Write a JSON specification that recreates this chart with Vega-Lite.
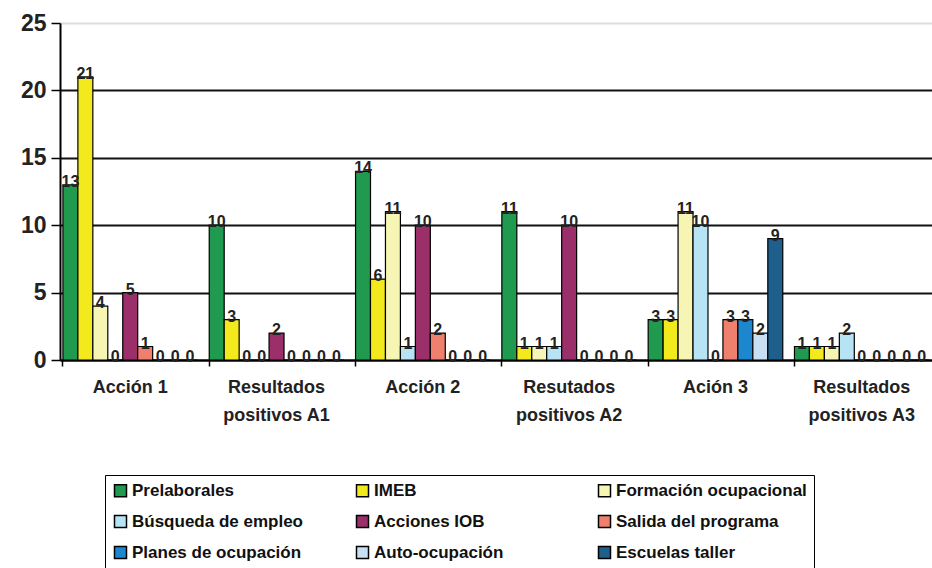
{
  "$schema": "https://vega.github.io/schema/vega-lite/v6.json",
  "width": 872,
  "height": 337,
  "autosize": "none",
  "padding": {"left": 60, "top": 23, "right": 0, "bottom": 208},
  "background": "white",
  "config": {
    "view": {"stroke": null},
    "font": "Liberation Sans"
  },
  "data": {
    "values": [
      {"grupo": "Acción 1", "serie": "Prelaborales", "valor": 13},
      {"grupo": "Acción 1", "serie": "IMEB", "valor": 21},
      {"grupo": "Acción 1", "serie": "Formación ocupacional", "valor": 4},
      {"grupo": "Acción 1", "serie": "Búsqueda de empleo", "valor": 0},
      {"grupo": "Acción 1", "serie": "Acciones IOB", "valor": 5},
      {"grupo": "Acción 1", "serie": "Salida del programa", "valor": 1},
      {"grupo": "Acción 1", "serie": "Planes de ocupación", "valor": 0},
      {"grupo": "Acción 1", "serie": "Auto-ocupación", "valor": 0},
      {"grupo": "Acción 1", "serie": "Escuelas taller", "valor": 0},
      {"grupo": "Resultados positivos A1", "serie": "Prelaborales", "valor": 10},
      {"grupo": "Resultados positivos A1", "serie": "IMEB", "valor": 3},
      {"grupo": "Resultados positivos A1", "serie": "Formación ocupacional", "valor": 0},
      {"grupo": "Resultados positivos A1", "serie": "Búsqueda de empleo", "valor": 0},
      {"grupo": "Resultados positivos A1", "serie": "Acciones IOB", "valor": 2},
      {"grupo": "Resultados positivos A1", "serie": "Salida del programa", "valor": 0},
      {"grupo": "Resultados positivos A1", "serie": "Planes de ocupación", "valor": 0},
      {"grupo": "Resultados positivos A1", "serie": "Auto-ocupación", "valor": 0},
      {"grupo": "Resultados positivos A1", "serie": "Escuelas taller", "valor": 0},
      {"grupo": "Acción 2", "serie": "Prelaborales", "valor": 14},
      {"grupo": "Acción 2", "serie": "IMEB", "valor": 6},
      {"grupo": "Acción 2", "serie": "Formación ocupacional", "valor": 11},
      {"grupo": "Acción 2", "serie": "Búsqueda de empleo", "valor": 1},
      {"grupo": "Acción 2", "serie": "Acciones IOB", "valor": 10},
      {"grupo": "Acción 2", "serie": "Salida del programa", "valor": 2},
      {"grupo": "Acción 2", "serie": "Planes de ocupación", "valor": 0},
      {"grupo": "Acción 2", "serie": "Auto-ocupación", "valor": 0},
      {"grupo": "Acción 2", "serie": "Escuelas taller", "valor": 0},
      {"grupo": "Resutados positivos A2", "serie": "Prelaborales", "valor": 11},
      {"grupo": "Resutados positivos A2", "serie": "IMEB", "valor": 1},
      {"grupo": "Resutados positivos A2", "serie": "Formación ocupacional", "valor": 1},
      {"grupo": "Resutados positivos A2", "serie": "Búsqueda de empleo", "valor": 1},
      {"grupo": "Resutados positivos A2", "serie": "Acciones IOB", "valor": 10},
      {"grupo": "Resutados positivos A2", "serie": "Salida del programa", "valor": 0},
      {"grupo": "Resutados positivos A2", "serie": "Planes de ocupación", "valor": 0},
      {"grupo": "Resutados positivos A2", "serie": "Auto-ocupación", "valor": 0},
      {"grupo": "Resutados positivos A2", "serie": "Escuelas taller", "valor": 0},
      {"grupo": "Ación 3", "serie": "Prelaborales", "valor": 3},
      {"grupo": "Ación 3", "serie": "IMEB", "valor": 3},
      {"grupo": "Ación 3", "serie": "Formación ocupacional", "valor": 11},
      {"grupo": "Ación 3", "serie": "Búsqueda de empleo", "valor": 10},
      {"grupo": "Ación 3", "serie": "Acciones IOB", "valor": 0},
      {"grupo": "Ación 3", "serie": "Salida del programa", "valor": 3},
      {"grupo": "Ación 3", "serie": "Planes de ocupación", "valor": 3},
      {"grupo": "Ación 3", "serie": "Auto-ocupación", "valor": 2},
      {"grupo": "Ación 3", "serie": "Escuelas taller", "valor": 9},
      {"grupo": "Resultados positivos A3", "serie": "Prelaborales", "valor": 1},
      {"grupo": "Resultados positivos A3", "serie": "IMEB", "valor": 1},
      {"grupo": "Resultados positivos A3", "serie": "Formación ocupacional", "valor": 1},
      {"grupo": "Resultados positivos A3", "serie": "Búsqueda de empleo", "valor": 2},
      {"grupo": "Resultados positivos A3", "serie": "Acciones IOB", "valor": 0},
      {"grupo": "Resultados positivos A3", "serie": "Salida del programa", "valor": 0},
      {"grupo": "Resultados positivos A3", "serie": "Planes de ocupación", "valor": 0},
      {"grupo": "Resultados positivos A3", "serie": "Auto-ocupación", "valor": 0},
      {"grupo": "Resultados positivos A3", "serie": "Escuelas taller", "valor": 0}
    ]
  },
  "encoding": {
    "x": {
      "field": "grupo",
      "type": "nominal",
      "sort": ["Acción 1", "Resultados positivos A1", "Acción 2", "Resutados positivos A2", "Ación 3", "Resultados positivos A3"],
      "scale": {"paddingInner": 0.08, "paddingOuter": 0.02},
      "axis": {
        "title": null,
        "labelAngle": 0,
        "labelFont": "Liberation Sans",
        "labelFontSize": 18,
        "labelFontWeight": "bold",
        "labelColor": "#222222",
        "labelPadding": 12,
        "labelLineHeight": 28,
        "labelExpr": "indexof(datum.label, ' positivos') > 0 ? [slice(datum.label, 0, indexof(datum.label, ' ')), slice(datum.label, indexof(datum.label, ' ') + 1)] : datum.label",
        "bandPosition": 0,
        "domainColor": "black",
        "domainWidth": 2,
        "tickColor": "black",
        "tickWidth": 1.5,
        "tickSize": 6,
        "grid": false
      }
    },
    "xOffset": {
      "field": "serie",
      "type": "nominal",
      "sort": ["Prelaborales", "IMEB", "Formación ocupacional", "Búsqueda de empleo", "Acciones IOB", "Salida del programa", "Planes de ocupación", "Auto-ocupación", "Escuelas taller"],
      "scale": {"paddingInner": 0.0}
    },
    "y": {
      "field": "valor",
      "type": "quantitative",
      "scale": {"domain": [0, 25]},
      "axis": {
        "title": null,
        "values": [0, 5, 10, 15, 20, 25],
        "labelFont": "Liberation Sans",
        "labelFontSize": 23,
        "labelFontWeight": "bold",
        "labelColor": "#222222",
        "labelPadding": 5,
        "domainColor": "black",
        "domainWidth": 2,
        "tickColor": "black",
        "tickWidth": 1.5,
        "tickSize": 9,
        "grid": true,
        "gridColor": {"condition": {"test": "datum.value == 25", "value": "#dddddd"}, "value": "#111111"},
        "gridWidth": 2,
        "gridDash": []
      }
    }
  },
  "layer": [
    {
      "mark": {"type": "bar", "stroke": "black", "strokeWidth": 1.2},
      "encoding": {
        "color": {
          "field": "serie",
          "type": "nominal",
          "sort": ["Prelaborales", "IMEB", "Formación ocupacional", "Búsqueda de empleo", "Acciones IOB", "Salida del programa", "Planes de ocupación", "Auto-ocupación", "Escuelas taller"],
          "scale": {
            "domain": ["Prelaborales", "IMEB", "Formación ocupacional", "Búsqueda de empleo", "Acciones IOB", "Salida del programa", "Planes de ocupación", "Auto-ocupación", "Escuelas taller"],
            "range": ["#1f9a4f", "#f2ea1c", "#f7f5b4", "#b7e4f4", "#9a2f6a", "#f0806e", "#1c86cf", "#c9e0f4", "#1e5f8c"]
          },
          "legend": {
            "title": null,
            "orient": "none",
            "legendX": 45,
            "legendY": 452,
            "direction": "horizontal",
            "columns": 3,
            "gridAlign": "all",
            "columnPadding": 30,
            "rowPadding": 12,
            "padding": 7,
            "strokeColor": "black",
            "symbolType": "square",
            "symbolSize": 144,
            "symbolStrokeColor": "black",
            "symbolStrokeWidth": 1.5,
            "labelFont": "Liberation Sans",
            "labelFontSize": 17,
            "labelFontWeight": "bold",
            "labelColor": "#111111",
            "labelLimit": 300,
            "labelOffset": 3
          }
        }
      }
    },
    {
      "mark": {"type": "text", "baseline": "bottom", "dy": 5, "fontSize": 16, "fontWeight": "bold", "font": "Liberation Sans", "color": "#222222"},
      "encoding": {
        "text": {"field": "valor", "type": "quantitative"}
      }
    }
  ]
}
